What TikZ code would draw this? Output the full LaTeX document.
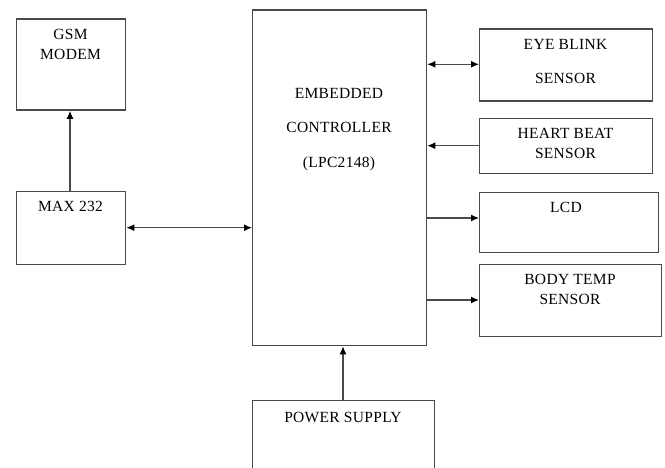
\documentclass[tikz,border=0pt]{standalone}
\usepackage{fontspec}
\setmainfont{Liberation Serif}[LetterSpace=2]
\usetikzlibrary{arrows.meta}
\definecolor{linegray}{HTML}{4A4A4A}
\tikzset{
  box/.style={draw=linegray, line width=1.3pt, rectangle, inner sep=0pt, anchor=north west},
  lbl/.style={anchor=base, inner sep=0pt, font=\fontsize{15.5}{18}\selectfont},
  conn/.style={draw=linegray, line width=1.3pt, >={Latex[length=8pt,width=7pt,color=black]}}
}
\begin{document}
\begin{tikzpicture}[x=1pt,y=-1pt]
\useasboundingbox (0,0) rectangle (665,468);
% boxes
\node[box, minimum width=109pt, minimum height=91pt] (gsm) at (16,18.5) {};
\node[box, minimum width=109pt, minimum height=73pt] (max) at (16,191) {};
\node[box, minimum width=174pt, minimum height=335.5pt] (ctrl) at (252,9.5) {};
\node[box, minimum width=173pt, minimum height=72pt] (eye) at (479,28.3) {};
\node[box, minimum width=173pt, minimum height=55pt] (heart) at (479,118) {};
\node[box, minimum width=178.5pt, minimum height=60pt] (lcd) at (479,191.7) {};
\node[box, minimum width=182pt, minimum height=72pt] (body) at (479,264) {};
\node[box, minimum width=182pt, minimum height=90pt] (power) at (252,399.5) {};
% labels
\node[lbl] (t1) at (70.5,40) {GSM};
\node[lbl] (t2) at (70.5,60) {MODEM};
\node[lbl] (t3) at (70.5,212) {MAX 232};
\node[lbl] (t4) at (339,99) {EMBEDDED};
\node[lbl] (t5) at (339,133) {CONTROLLER};
\node[lbl] (t6) at (339,168) {(LPC2148)};
\node[lbl] (t7) at (565.5,50) {EYE BLINK};
\node[lbl] (t8) at (565.5,84) {SENSOR};
\node[lbl] (t9) at (565.5,139) {HEART BEAT};
\node[lbl] (t10) at (565.5,159) {SENSOR};
\node[lbl] (t11) at (566,213) {LCD};
\node[lbl] (t12) at (570,285) {BODY TEMP};
\node[lbl] (t13) at (570,305) {SENSOR};
\node[lbl] (t14) at (343,422) {POWER SUPPLY};
% connectors
\draw[conn,->] (max.north -| 70,0) -- (gsm.south -| 70,0);
\draw[conn,<->] (max.east |- 0,227.7) -- (ctrl.west |- 0,227.7);
\draw[conn,<->] (ctrl.east |- 0,64.3) -- (eye.west |- 0,64.3);
\draw[conn,->] (heart.west |- 0,145.7) -- (ctrl.east |- 0,145.7);
\draw[conn,->] (ctrl.east |- 0,218) -- (lcd.west |- 0,218);
\draw[conn,->] (ctrl.east |- 0,300) -- (body.west |- 0,300);
\draw[conn,->] (power.north -| 343,0) -- (ctrl.south -| 343,0);
\end{tikzpicture}
\end{document}
